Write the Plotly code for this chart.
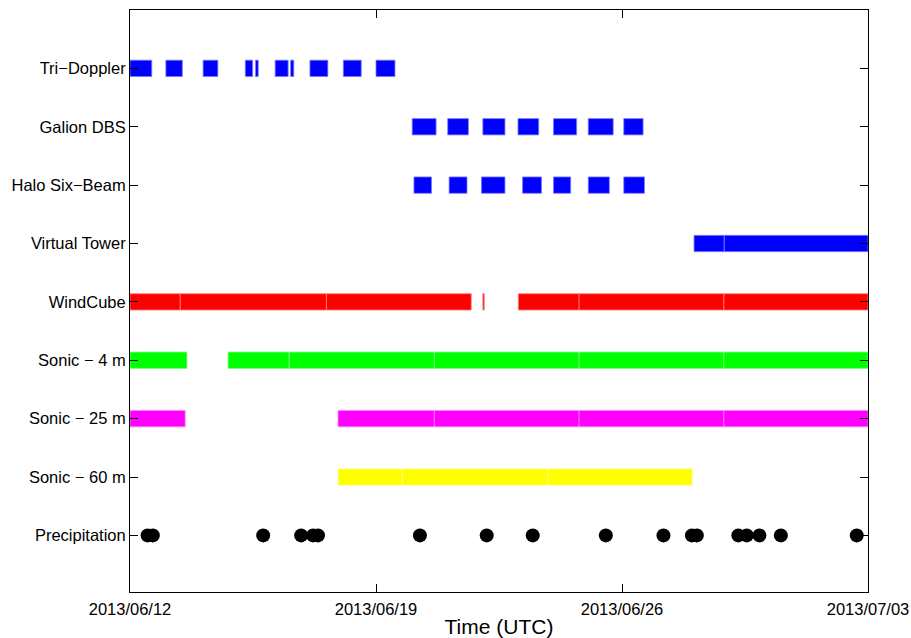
import pandas as pd
import plotly.graph_objects as go

# Campaign start; all intervals below are offsets in days from this instant
START = pd.Timestamp("2013-06-12")
END = pd.Timestamp("2013-07-03")

INSTRUMENTS = [
    "Tri\u2212Doppler", "Galion DBS", "Halo Six\u2212Beam", "Virtual Tower",
    "WindCube", "Sonic \u2212 4 m", "Sonic \u2212 25 m", "Sonic \u2212 60 m",
    "Precipitation",
]

# Data availability intervals (start day, end day)
tri_doppler = [(0.00, 0.62), (1.02, 1.49), (2.08, 2.50), (3.28, 3.49), (3.57, 3.65),
               (4.13, 4.50), (4.57, 4.66), (5.12, 5.63), (6.07, 6.58), (7.00, 7.54)]
galion_dbs = [(8.03, 8.71), (9.04, 9.63), (10.04, 10.67), (11.04, 11.63),
              (12.05, 12.71), (13.04, 13.75), (14.05, 14.60)]
halo_six_beam = [(8.08, 8.58), (9.08, 9.59), (10.00, 10.67), (11.17, 11.71),
                 (12.05, 12.54), (13.04, 13.64), (14.05, 14.64)]
virtual_tower = [(16.05, 16.91), (16.91, 21.00)]
windcube = [(0.00, 1.43), (1.43, 5.59), (5.59, 9.71), (10.04, 10.08),
            (11.05, 12.78), (12.78, 16.90), (16.90, 21.00)]
sonic_4m = [(0.00, 1.62), (2.79, 4.53), (4.53, 8.66), (8.66, 12.78),
            (12.78, 16.90), (16.90, 21.00)]
sonic_25m = [(0.00, 1.57), (5.92, 8.66), (8.66, 12.78), (12.78, 16.90), (16.90, 21.00)]
sonic_60m = [(5.92, 7.75), (7.75, 11.89), (11.89, 16.00)]

# Precipitation events (day offsets)
precip_days = [0.50, 0.65, 3.79, 4.87, 5.21, 5.35, 8.25, 10.15, 11.46, 13.54,
               15.18, 15.99, 16.13, 17.31, 17.55, 17.91, 18.52, 20.68]

BAR_SERIES = [
    (tri_doppler, "#0000ff", "#7f7fff"),
    (galion_dbs, "#0000ff", "#7f7fff"),
    (halo_six_beam, "#0000ff", "#7f7fff"),
    (virtual_tower, "#0000ff", "#7f7fff"),
    (windcube, "#ff0000", "#ff7f7f"),
    (sonic_4m, "#00ff00", "#7fff7f"),
    (sonic_25m, "#ff00ff", "#ff7fff"),
    (sonic_60m, "#ffff00", "#ffff9f"),
]

DAY_MS = 86400000.0
FONT = "Liberation Sans, Arial, Helvetica, sans-serif"

fig = go.Figure()

for row, (intervals, fill, edge) in enumerate(BAR_SERIES, start=1):
    bases = [START + pd.Timedelta(days=s) for s, _ in intervals]
    lengths = [(e - s) * DAY_MS for s, e in intervals]
    fig.add_trace(go.Bar(
        orientation="h",
        y=[row] * len(intervals),
        x=lengths,
        base=bases,
        width=0.28,
        marker=dict(color=fill, line=dict(color=edge, width=0.8)),
        showlegend=False,
        hoverinfo="skip",
    ))

fig.add_trace(go.Scatter(
    x=[START + pd.Timedelta(days=d) for d in precip_days],
    y=[INSTRUMENTS.index("Precipitation") + 1] * len(precip_days),
    mode="markers",
    marker=dict(color="black", size=14, line=dict(width=0)),
    showlegend=False,
    hoverinfo="skip",
))

tick_dates = pd.date_range(START, END, freq="7D")

fig.update_layout(
    width=911, height=638,
    margin=dict(l=130, r=43, t=10, b=46, autoexpand=False),
    paper_bgcolor="white", plot_bgcolor="white",
    font=dict(family=FONT, size=16.5, color="black"),
    barmode="overlay",
    xaxis=dict(
        type="date",
        range=[START, END],
        tickvals=list(tick_dates),
        ticktext=[d.strftime("%Y/%m/%d") for d in tick_dates],
        ticks="inside", ticklen=8, tickwidth=1, tickcolor="black",
        showline=True, linecolor="black", linewidth=1, mirror="ticks",
        showgrid=False, zeroline=False, automargin=False,
        tickfont=dict(size=16.5), ticklabelstandoff=2,
        title=dict(text="Time (UTC)", font=dict(size=21), standoff=3),
    ),
    yaxis=dict(
        range=[9.97, 0.0],
        tickvals=list(range(1, len(INSTRUMENTS) + 1)),
        ticktext=INSTRUMENTS,
        ticks="inside", ticklen=8, tickwidth=1, tickcolor="black",
        showline=True, linecolor="black", linewidth=1, mirror="ticks",
        showgrid=False, zeroline=False, automargin=False,
        tickfont=dict(size=16.5),
    ),
)

fig.write_html("out.html")
